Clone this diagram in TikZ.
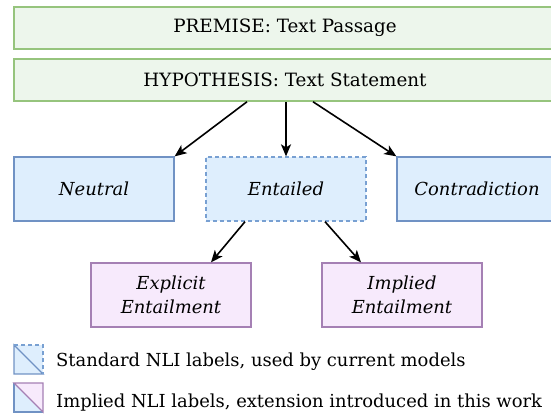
\documentclass[tikz,border=0pt]{standalone}
\usepackage{fontspec}
\setmainfont{DejaVu Serif}
\usetikzlibrary{arrows.meta}
\definecolor{gfill}{RGB}{237,246,236}
\definecolor{gdraw}{RGB}{150,196,125}
\definecolor{bfill}{RGB}{222,238,253}
\definecolor{bdraw}{RGB}{112,146,196}
\definecolor{bdash}{RGB}{120,160,210}
\definecolor{pfill}{RGB}{247,234,252}
\definecolor{pdraw}{RGB}{165,128,180}
\begin{document}
\begin{tikzpicture}[x=1bp,y=-1bp,
  txt/.style={font=\fontsize{18.4}{23}\selectfont},
  box/.style={draw, line width=1.3bp, minimum width=160bp, minimum height=64bp, inner sep=0pt, align=center, font=\fontsize{18}{23.5}\selectfont\itshape},
  gbox/.style={draw=gdraw, fill=gfill, line width=1.5bp, minimum height=42bp, minimum width=542bp, inner sep=0pt, txt},
  bbox/.style={box, draw=bdraw, fill=bfill},
  dbox/.style={box, draw=bdash, fill=bfill, dash pattern=on 4bp off 3bp},
  pbox/.style={box, draw=pdraw, fill=pfill},
  arr/.style={-{Stealth[length=12bp,width=10bp,inset=3bp]}, line width=1.6bp, black},
  legtext/.style={anchor=base west, inner sep=0pt, font=\fontsize{18}{23}\selectfont}
]
\useasboundingbox (0,0) rectangle (551,414);
\clip (0,0) rectangle (551,414);
\node[gbox] (pre) at (285,28) {PREMISE: Text Passage};
\node[gbox] (hyp) at (285,80) {HYPOTHESIS: Text Statement};
\node[bbox] (neu) at (94,189) {Neutral};
\node[dbox] (ent) at (286,189) {Entailed};
\node[bbox] (con) at (477,189) {Contradiction};
\node[pbox] (exp) at (171,295) {Explicit\\Entailment};
\node[pbox] (imp) at (402,295) {Implied\\Entailment};
\draw[arr] ([xshift=-38bp]hyp.south) -- (neu.north east);
\draw[arr] (hyp.south -| ent.north) -- (ent.north);
\draw[arr] ([xshift=28bp]hyp.south) -- (con.north west);
\draw[arr] ([xshift=-41bp]ent.south) -- ([xshift=40bp]exp.north);
\draw[arr] ([xshift=39bp]ent.south) -- ([xshift=-41bp]imp.north);
% legend icon 1
\fill[bfill] (14,345) rectangle (43,374);
\draw[bdraw, line width=1.3bp] (14,345) -- (14,374) -- (43,374) -- cycle;
\draw[bdash, line width=1.3bp, dash pattern=on 4bp off 3bp] (14,345) -- (43,345) -- (43,374);
% legend icon 2
\fill[bfill] (14,383) -- (14,412) -- (43,412) -- cycle;
\fill[pfill] (14,383) -- (43,383) -- (43,412) -- cycle;
\draw[bdraw, line width=1.3bp] (14,383) -- (14,412) -- (43,412);
\draw[pdraw, line width=1.3bp] (14,383) -- (43,383) -- (43,412) -- cycle;
\node[legtext] (l1) at (56,366) {Standard NLI labels, used by current models};
\node[legtext] (l2) at (56,407) {Implied NLI labels, extension introduced in this work};
\end{tikzpicture}
\end{document}
